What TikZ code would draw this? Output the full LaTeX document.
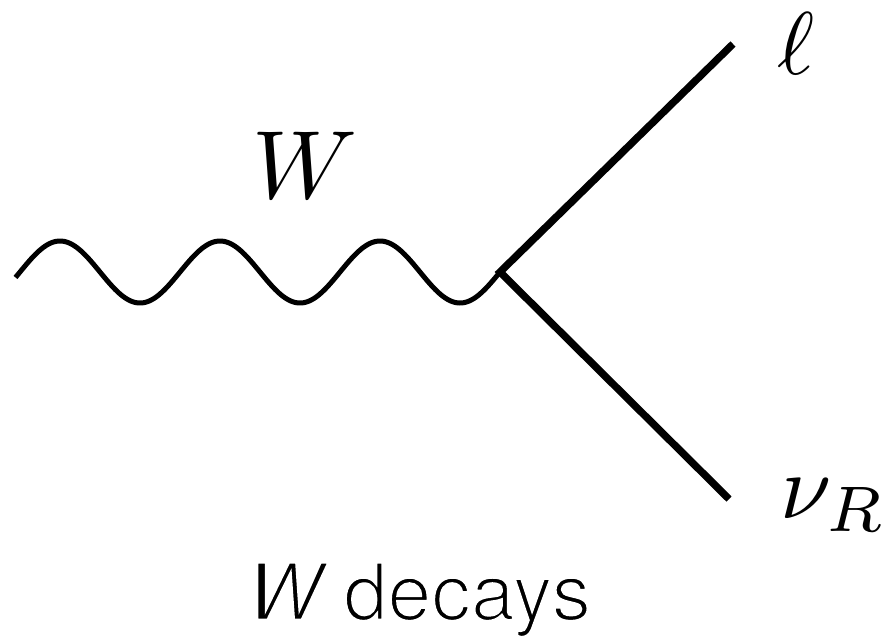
\documentclass[tikz,border=0pt]{standalone}
\usepackage{fontspec}
\newfontfamily\capfont{TeX Gyre Heros}
\newcommand\thintext[1]{\special{pdf:code q 2 Tr 1 1 1 RG 2.6 w}#1\special{pdf:code Q}}
\begin{document}
\begin{tikzpicture}[x=1pt,y=-1pt,
  fermion/.style={line width=7.4pt, line join=miter},
  boson/.style={line width=5pt},
  mathlabel/.style={inner sep=0pt},
  caption/.style={inner sep=0pt, font=\capfont\fontsize{79}{90}\selectfont},
]
\useasboundingbox (0,0) rectangle (889,638);
\coordinate (v) at (500,272);
\coordinate (l) at (733,44);
\coordinate (n) at (729,499);
\draw[boson] plot[domain=15.5:500, samples=240, smooth] (\x,{272-31*sin(2.25*(\x-20))});
\draw[fermion] (l) -- (v) -- (n);
\node[mathlabel, scale=8.9] (ell) at (796.5,43.5) {$\ell$};
\node[mathlabel, scale=9.7] (Wlab) at (305,165) {$W$};
\node[mathlabel, scale=9.2, anchor=base west] (nu) at (779,518) {$\nu_R$};
\node[caption, anchor=base] (cap) at (419,620) {\thintext{\itshape W\upshape\ decays}};
\end{tikzpicture}
\end{document}
